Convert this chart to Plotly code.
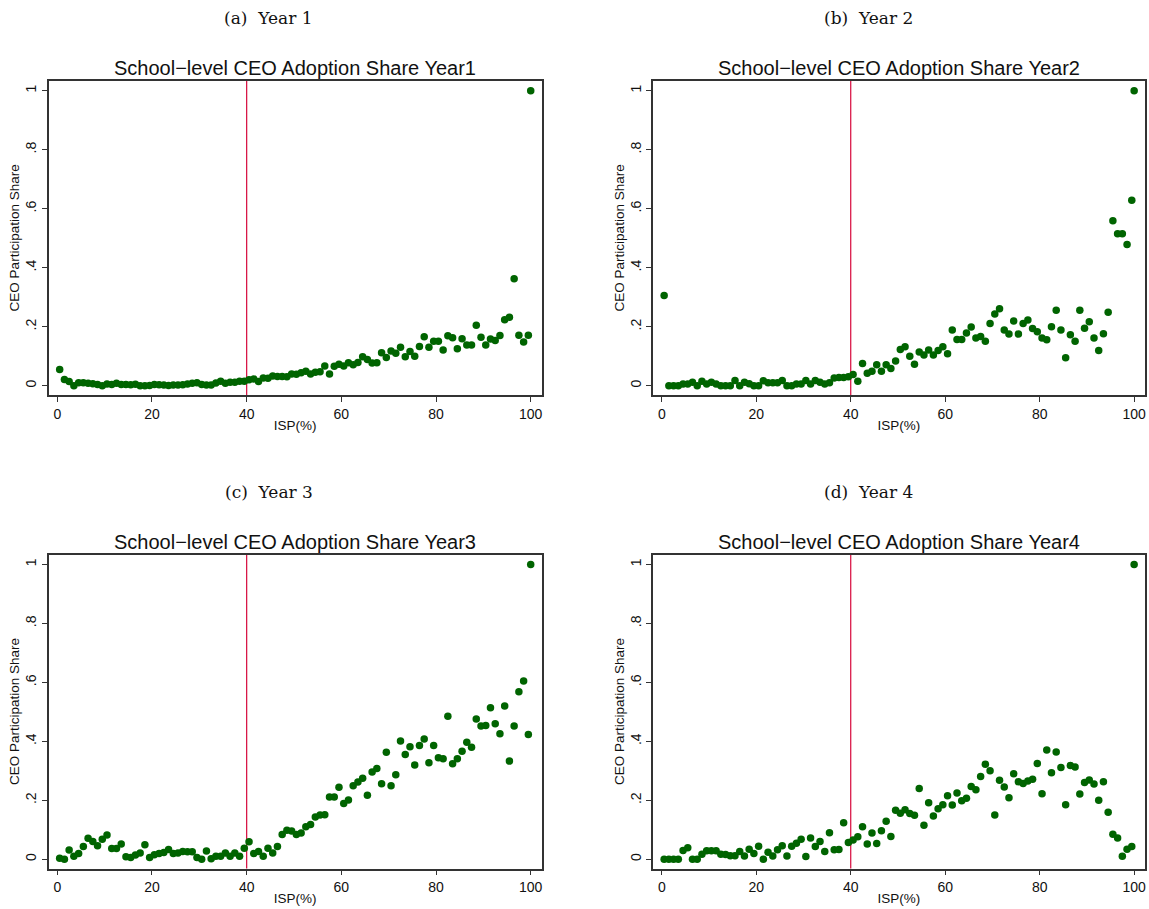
import plotly.graph_objects as go

W, H = 1149, 909

# ISP bins: 0.5 .. 99.5, plus ISP = 100
isp = [i + 0.5 for i in range(100)] + [100.0]

year1 = [0.055, 0.021, 0.014, 0.0, 0.010, 0.010, 0.008, 0.007, 0.004, 0.0,
         0.006, 0.004, 0.008, 0.004, 0.004, 0.003, 0.005, 0.0, 0.0, 0.001,
         0.004, 0.003, 0.002, 0.001, 0.002, 0.002, 0.003, 0.006, 0.008, 0.010,
         0.004, 0.002, 0.002, 0.009, 0.015, 0.008, 0.012, 0.012, 0.015, 0.015,
         0.020, 0.023, 0.014, 0.026, 0.025, 0.033, 0.031, 0.031, 0.030, 0.040,
         0.039, 0.044, 0.049, 0.040, 0.046, 0.047, 0.067, 0.040, 0.066, 0.073,
         0.067, 0.078, 0.071, 0.079, 0.098, 0.089, 0.077, 0.078, 0.112, 0.096,
         0.118, 0.110, 0.130, 0.098, 0.116, 0.100, 0.133, 0.166, 0.130, 0.151,
         0.151, 0.121, 0.169, 0.163, 0.125, 0.159, 0.138, 0.138, 0.205, 0.164,
         0.138, 0.158, 0.153, 0.170, 0.224, 0.232, 0.363, 0.171, 0.148, 0.171,
         1.0]

year2 = [0.306, 0.0, 0.0, 0.0, 0.006, 0.006, 0.012, 0.0, 0.015, 0.006,
         0.012, 0.006, 0.0, 0.0, 0.0, 0.018, 0.0, 0.012, 0.007, 0.0,
         0.0, 0.017, 0.010, 0.010, 0.010, 0.018, 0.0, 0.0, 0.006, 0.006,
         0.018, 0.006, 0.018, 0.012, 0.006, 0.010, 0.026, 0.028, 0.028, 0.030,
         0.038, 0.015, 0.075, 0.042, 0.049, 0.071, 0.049, 0.071, 0.058, 0.084,
         0.123, 0.132, 0.100, 0.073, 0.114, 0.104, 0.121, 0.104, 0.119, 0.132,
         0.108, 0.189, 0.157, 0.157, 0.179, 0.199, 0.162, 0.167, 0.151, 0.211,
         0.243, 0.261, 0.189, 0.175, 0.219, 0.175, 0.211, 0.223, 0.194, 0.183,
         0.162, 0.156, 0.200, 0.256, 0.189, 0.095, 0.173, 0.151, 0.256, 0.195,
         0.217, 0.162, 0.119, 0.176, 0.249, 0.559, 0.515, 0.515, 0.479, 0.629,
         1.0]

year3 = [0.003, 0.0, 0.031, 0.010, 0.019, 0.043, 0.071, 0.060, 0.046, 0.068,
         0.082, 0.036, 0.036, 0.052, 0.008, 0.006, 0.014, 0.021, 0.049, 0.006,
         0.015, 0.019, 0.023, 0.033, 0.019, 0.021, 0.026, 0.025, 0.025, 0.006,
         0.0, 0.028, 0.002, 0.010, 0.010, 0.021, 0.010, 0.021, 0.010, 0.037,
         0.059, 0.019, 0.026, 0.010, 0.037, 0.021, 0.043, 0.084, 0.098, 0.096,
         0.084, 0.089, 0.110, 0.118, 0.143, 0.150, 0.151, 0.211, 0.211, 0.244,
         0.189, 0.201, 0.249, 0.262, 0.275, 0.217, 0.296, 0.308, 0.256, 0.363,
         0.249, 0.287, 0.401, 0.355, 0.382, 0.320, 0.386, 0.408, 0.327, 0.386,
         0.344, 0.341, 0.485, 0.324, 0.341, 0.366, 0.397, 0.380, 0.476, 0.452,
         0.454, 0.514, 0.460, 0.426, 0.520, 0.333, 0.452, 0.568, 0.605, 0.423,
         1.0]

year4 = [0.0, 0.0, 0.0, 0.0, 0.030, 0.039, 0.0, 0.0, 0.017, 0.029,
         0.029, 0.029, 0.017, 0.016, 0.012, 0.012, 0.026, 0.011, 0.034, 0.019,
         0.044, 0.0, 0.024, 0.011, 0.032, 0.046, 0.011, 0.044, 0.054, 0.068,
         0.009, 0.072, 0.043, 0.060, 0.026, 0.090, 0.032, 0.033, 0.124, 0.057,
         0.065, 0.076, 0.110, 0.052, 0.089, 0.053, 0.097, 0.129, 0.077, 0.166,
         0.156, 0.168, 0.155, 0.149, 0.240, 0.115, 0.192, 0.147, 0.171, 0.185,
         0.215, 0.184, 0.225, 0.198, 0.207, 0.247, 0.236, 0.281, 0.322, 0.300,
         0.150, 0.268, 0.245, 0.209, 0.290, 0.263, 0.257, 0.265, 0.271, 0.325,
         0.222, 0.371, 0.293, 0.364, 0.311, 0.185, 0.318, 0.313, 0.221, 0.260,
         0.269, 0.255, 0.200, 0.263, 0.159, 0.085, 0.072, 0.010, 0.034, 0.043,
         1.0]

series = [year1, year2, year3, year4]
titles = ["School\u2212level CEO Adoption Share Year1",
          "School\u2212level CEO Adoption Share Year2",
          "School\u2212level CEO Adoption Share Year3",
          "School\u2212level CEO Adoption Share Year4"]
captions = ["(a)\u00a0 Year 1", "(b)\u00a0 Year 2", "(c)\u00a0 Year 3", "(d)\u00a0 Year 4"]

y_tickvals = [0, 0.2, 0.4, 0.6, 0.8, 1]
y_ticktext = ["0", ".2", ".4", ".6", ".8", "1"]
x_tickvals = [0, 20, 40, 60, 80, 100]
cutoff = 40

# plot frames in pixels (left, right, top, bottom)
frames = [(48.5, 541.6, 80.7, 395.0),
          (653.0, 1145.0, 80.7, 395.0),
          (48.5, 541.6, 554.5, 868.5),
          (653.0, 1145.0, 554.5, 868.5)]
caption_x = [268.6, 868.5, 268.6, 868.5]

GREEN = "#006400"
RED = "#D6083B"
AXC = "#333333"
SANS = "Liberation Sans, Arial, Helvetica, sans-serif"
SERIF = "DejaVu Serif, Liberation Serif, serif"

fig = go.Figure()
layout = dict(width=W, height=H, margin=dict(l=0, r=0, t=0, b=0),
              paper_bgcolor="white", plot_bgcolor="white", showlegend=False)
annotations = []
shapes = []

for k in range(4):
    n = "" if k == 0 else str(k + 1)
    L, R, T, B = frames[k]
    fig.add_trace(go.Scatter(x=isp, y=series[k], mode="markers",
                             marker=dict(color=GREEN, size=7.5, line=dict(width=0)),
                             xaxis="x" + n, yaxis="y" + n, hoverinfo="x+y"))
    layout["xaxis" + n] = dict(
        domain=[L / W, R / W], anchor="y" + n, range=[-1.86, 102.3],
        tickvals=x_tickvals, ticks="outside", ticklen=5, tickcolor=AXC, tickwidth=1,
        showline=True, linecolor=AXC, linewidth=1.5, mirror=True,
        showgrid=False, zeroline=False,
        tickfont=dict(family=SANS, size=14, color="#111"),
        title=dict(text="ISP(%)", font=dict(family=SANS, size=13.5, color="#111"), standoff=0))
    layout["yaxis" + n] = dict(
        domain=[1 - B / H, 1 - T / H], anchor="x" + n, range=[-0.0315, 1.034],
        tickvals=y_tickvals, ticktext=y_ticktext, tickangle=-90,
        ticks="outside", ticklen=5, tickcolor=AXC, tickwidth=1,
        showline=True, linecolor=AXC, linewidth=1.5, mirror=True,
        showgrid=False, zeroline=False,
        tickfont=dict(family=SANS, size=14, color="#111"),
        title=dict(text="CEO Participation Share", font=dict(family=SANS, size=13.5, color="#111"), standoff=0))
    shapes.append(dict(type="line", xref="x" + n, yref="y" + n + " domain",
                       x0=cutoff, x1=cutoff, y0=0, y1=1,
                       line=dict(color=RED, width=1.2), layer="below"))
    annotations.append(dict(text=titles[k], xref="paper", yref="paper",
                            x=(L + R) / 2 / W, y=1 - (T - 13) / H,
                            xanchor="center", yanchor="middle", showarrow=False,
                            font=dict(family=SANS, size=20, color="#111")))
    annotations.append(dict(text=captions[k], xref="paper", yref="paper",
                            x=caption_x[k] / W, y=1 - (T - 62.5) / H,
                            xanchor="center", yanchor="middle", showarrow=False,
                            font=dict(family=SERIF, size=17, color="#111")))

layout["annotations"] = annotations
layout["shapes"] = shapes
fig.update_layout(**layout)
fig.write_html("out.html", config={"displayModeBar": False},
               post_script="document.body.style.margin='0';document.body.style.overflow='hidden';")
